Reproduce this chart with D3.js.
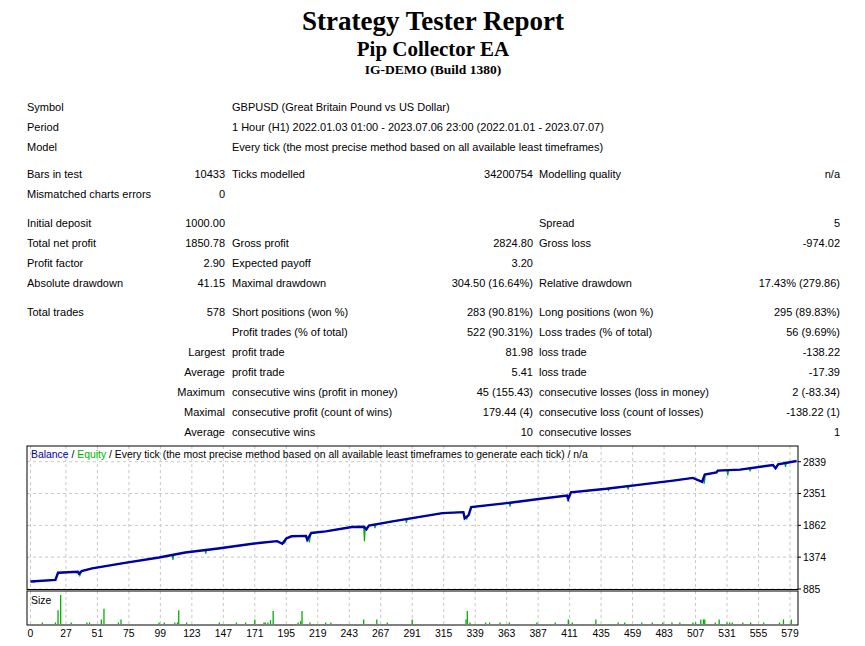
<!DOCTYPE html>
<html><head><meta charset="utf-8">
<script src="https://cdn.jsdelivr.net/npm/d3@7"></script>
<style>body{margin:0;background:#fff}svg{display:block}</style>
</head><body><svg id="c" width="865" height="646"></svg>
<script>
// ---- data ----
const titles = ["Strategy Tester Report","Pip Collector EA","IG-DEMO (Build 1380)"];
const infoRows = [
  ["Symbol","GBPUSD (Great Britain Pound vs US Dollar)"],
  ["Period","1 Hour (H1) 2022.01.03 01:00 - 2023.07.06 23:00 (2022.01.01 - 2023.07.07)"],
  ["Model","Every tick (the most precise method based on all available least timeframes)"]
];
// [y, c1 label, c2 value, c3 label, c4 value, c5 label, c6 value]
const statRows = [
  [174,"Bars in test","10433","Ticks modelled","34200754","Modelling quality","n/a"],
  [194,"Mismatched charts errors","0","","","",""],
  [223,"Initial deposit","1000.00","","","Spread","5"],
  [243,"Total net profit","1850.78","Gross profit","2824.80","Gross loss","-974.02"],
  [263,"Profit factor","2.90","Expected payoff","3.20","",""],
  [283,"Absolute drawdown","41.15","Maximal drawdown","304.50 (16.64%)","Relative drawdown","17.43% (279.86)"],
  [312,"Total trades","578","Short positions (won %)","283 (90.81%)","Long positions (won %)","295 (89.83%)"],
  [332,"","","Profit trades (% of total)","522 (90.31%)","Loss trades (% of total)","56 (9.69%)"],
  [352,"","Largest","profit trade","81.98","loss trade","-138.22"],
  [372,"","Average","profit trade","5.41","loss trade","-17.39"],
  [392,"","Maximum","consecutive wins (profit in money)","45 (155.43)","consecutive losses (loss in money)","2 (-83.34)"],
  [412,"","Maximal","consecutive profit (count of wins)","179.44 (4)","consecutive loss (count of losses)","-138.22 (1)"],
  [432,"","Average","consecutive wins","10","consecutive losses","1"]
];
// balance checkpoints [trade, balance]
const balance = [[0,1000],[19,1025],[21,1134],[36,1150],[37,1120],[39,1160],[47,1201],[72,1287],[98,1369],[118,1445],[143,1506],[174,1592],[188,1620],[192,1580],[195,1660],[199,1694],[210,1700],[211,1640],[214,1745],[225,1770],[245,1836],[254,1840],[256,1800],[258,1860],[276,1923],[314,2050],[330,2065],[331,1970],[334,2020],[336,2142],[363,2203],[389,2270],[409,2320],[410,2270],[412,2370],[439,2423],[465,2488],[490,2549],[505,2590],[512,2530],[514,2641],[523,2676],[524,2702],[541,2717],[566,2789],[568,2740],[570,2800],[584,2850]];
// equity drawdown spikes [trade, equity low]
const equityDips = [[2,990],[37,1090],[108,1330],[133,1430],[193,1590],[212,1600],[254,1620],[262,1820],[286,1900],[332,1960],[365,2150],[409,2230],[440,2400],[455,2410],[513,2500],[531,2630],[548,2690],[575,2760]];
// trade sizes [trade, lots]
const sizes = [[9,0.01],[19,0.01],[21,0.09],[23,0.19],[31,0.01],[43,0.01],[45,0.01],[54,0.03],[56,0.1],[67,0.01],[69,0.03],[98,0.01],[102,0.01],[110,0.01],[112,0.01],[113,0.09],[119,0.01],[144,0.01],[157,0.01],[164,0.01],[171,0.03],[178,0.01],[179,0.01],[181,0.01],[183,0.025],[185,0.085],[204,0.01],[206,0.02],[207,0.085],[213,0.01],[225,0.01],[229,0.01],[254,0.03],[264,0.03],[272,0.01],[291,0.03],[332,0.03],[333,0.085],[335,0.01],[347,0.01],[350,0.01],[358,0.01],[365,0.01],[386,0.01],[400,0.01],[410,0.03],[413,0.01],[431,0.03],[448,0.01],[453,0.01],[466,0.01],[474,0.01],[482,0.01],[489,0.01],[495,0.01],[505,0.01],[507,0.01],[511,0.03],[513,0.03],[514,0.03],[522,0.01],[525,0.03],[531,0.01],[533,0.01],[535,0.01],[543,0.01],[549,0.01],[559,0.01],[571,0.01],[574,0.03],[580,0.03]];
const yTicks = [885,1374,1862,2351,2839];
const xTicks = [0,27,51,75,99,123,147,171,195,219,243,267,291,315,339,363,387,411,435,459,483,507,531,555,579];

// ---- drawing ----
const svg = d3.select("#c");
const F = "'Liberation Sans', Arial, sans-serif";
svg.append("text").attr("x",433).attr("y",30).attr("text-anchor","middle").attr("font-family","'Liberation Serif',serif").attr("font-weight","bold").attr("font-size",27).text(titles[0]);
svg.append("text").attr("x",433).attr("y",56).attr("text-anchor","middle").attr("font-family","'Liberation Serif',serif").attr("font-weight","bold").attr("font-size",21).text(titles[1]);
svg.append("text").attr("x",433).attr("y",74).attr("text-anchor","middle").attr("font-family","'Liberation Serif',serif").attr("font-weight","bold").attr("font-size",13.5).text(titles[2]);

const txt = (x,y,s,anchor)=>svg.append("text").attr("x",x).attr("y",y+4).attr("text-anchor",anchor||"start")
  .attr("font-family",F).attr("font-size",11).attr("fill","#000").text(s);
infoRows.forEach((r,i)=>{ txt(27,107+20*i,r[0]); txt(232,107+20*i,r[1]); });
statRows.forEach(r=>{
  const y=r[0];
  if(r[1]) txt(27,y,r[1]); if(r[2]) txt(225,y,r[2],"end");
  if(r[3]) txt(232,y,r[3]); if(r[4]) txt(533,y,r[4],"end");
  if(r[5]) txt(539,y,r[5]); if(r[6]) txt(840,y,r[6],"end");
});

const L=27,R=798,T=446,B=589.5,ST=591,SB=625;
const x = d3.scaleLinear().domain([0,579]).range([30.5,790]);
const y = d3.scaleLinear().domain([885,2839]).range([589,461.7]);
const ys = d3.scaleLinear().domain([0,0.19]).range([624,595]);

const g = svg.append("g");
xTicks.forEach(t=>{
  g.append("line").attr("x1",x(t)).attr("x2",x(t)).attr("y1",T).attr("y2",B).attr("stroke","#c8c8c8").attr("stroke-dasharray","3,3");
  g.append("line").attr("x1",x(t)).attr("x2",x(t)).attr("y1",ST).attr("y2",SB).attr("stroke","#c8c8c8").attr("stroke-dasharray","3,3");
});
yTicks.forEach(v=>{
  g.append("line").attr("x1",L).attr("x2",R).attr("y1",y(v)).attr("y2",y(v)).attr("stroke","#c8c8c8").attr("stroke-dasharray","3,3");
});
const eq = [];
balance.forEach((b,i)=>{ eq.push(b); const nxt=balance[i+1];
  equityDips.filter(d=>d[0]>=b[0] && (!nxt || d[0]<nxt[0])).forEach(d=>{
    const base = b[1] + (nxt? (nxt[1]-b[1])*(d[0]-b[0])/(nxt[0]-b[0]) : 0);
    eq.push([d[0],base]); eq.push([d[0]+0.6,d[1]]); eq.push([d[0]+1.2,base]);
  });
});
const line = d3.line().x(d=>x(d[0])).y(d=>y(d[1]));
g.append("path").datum(eq).attr("d",line).attr("fill","none").attr("stroke","#00b000").attr("stroke-width",1.2);
g.append("path").datum(balance).attr("d",line).attr("fill","none").attr("stroke","#0000a8").attr("stroke-width",2.4);
g.selectAll(".sz").data(sizes).join("line").attr("x1",d=>x(d[0])).attr("x2",d=>x(d[0]))
  .attr("y1",624).attr("y2",d=>ys(d[1])).attr("stroke","#00b000").attr("stroke-width",1.3);
g.append("rect").attr("x",L).attr("y",T).attr("width",R-L).attr("height",B-T).attr("fill","none").attr("stroke","#000");
g.append("rect").attr("x",L).attr("y",ST).attr("width",R-L).attr("height",SB-ST).attr("fill","none").attr("stroke","#000");
const ht = g.append("text").attr("x",31).attr("y",458).attr("font-family",F).attr("font-size",10.4);
ht.append("tspan").attr("fill","#0000a8").text("Balance");
ht.append("tspan").attr("fill","#000").text(" / ");
ht.append("tspan").attr("fill","#00b000").text("Equity");
ht.append("tspan").attr("fill","#000").text(" / Every tick (the most precise method based on all available least timeframes to generate each tick) / n/a");
g.append("text").attr("x",31).attr("y",604).attr("font-family",F).attr("font-size",10.4).text("Size");
yTicks.forEach(v=>{
  g.append("line").attr("x1",R).attr("x2",R+3).attr("y1",y(v)).attr("y2",y(v)).attr("stroke","#000");
  g.append("text").attr("x",803).attr("y",y(v)+4).attr("font-family",F).attr("font-size",10.4).text(v);
});
xTicks.forEach(t=>{
  g.append("text").attr("x",x(t)).attr("y",637).attr("text-anchor","middle").attr("font-family",F).attr("font-size",10.4).text(t);
});
</script></body></html>
